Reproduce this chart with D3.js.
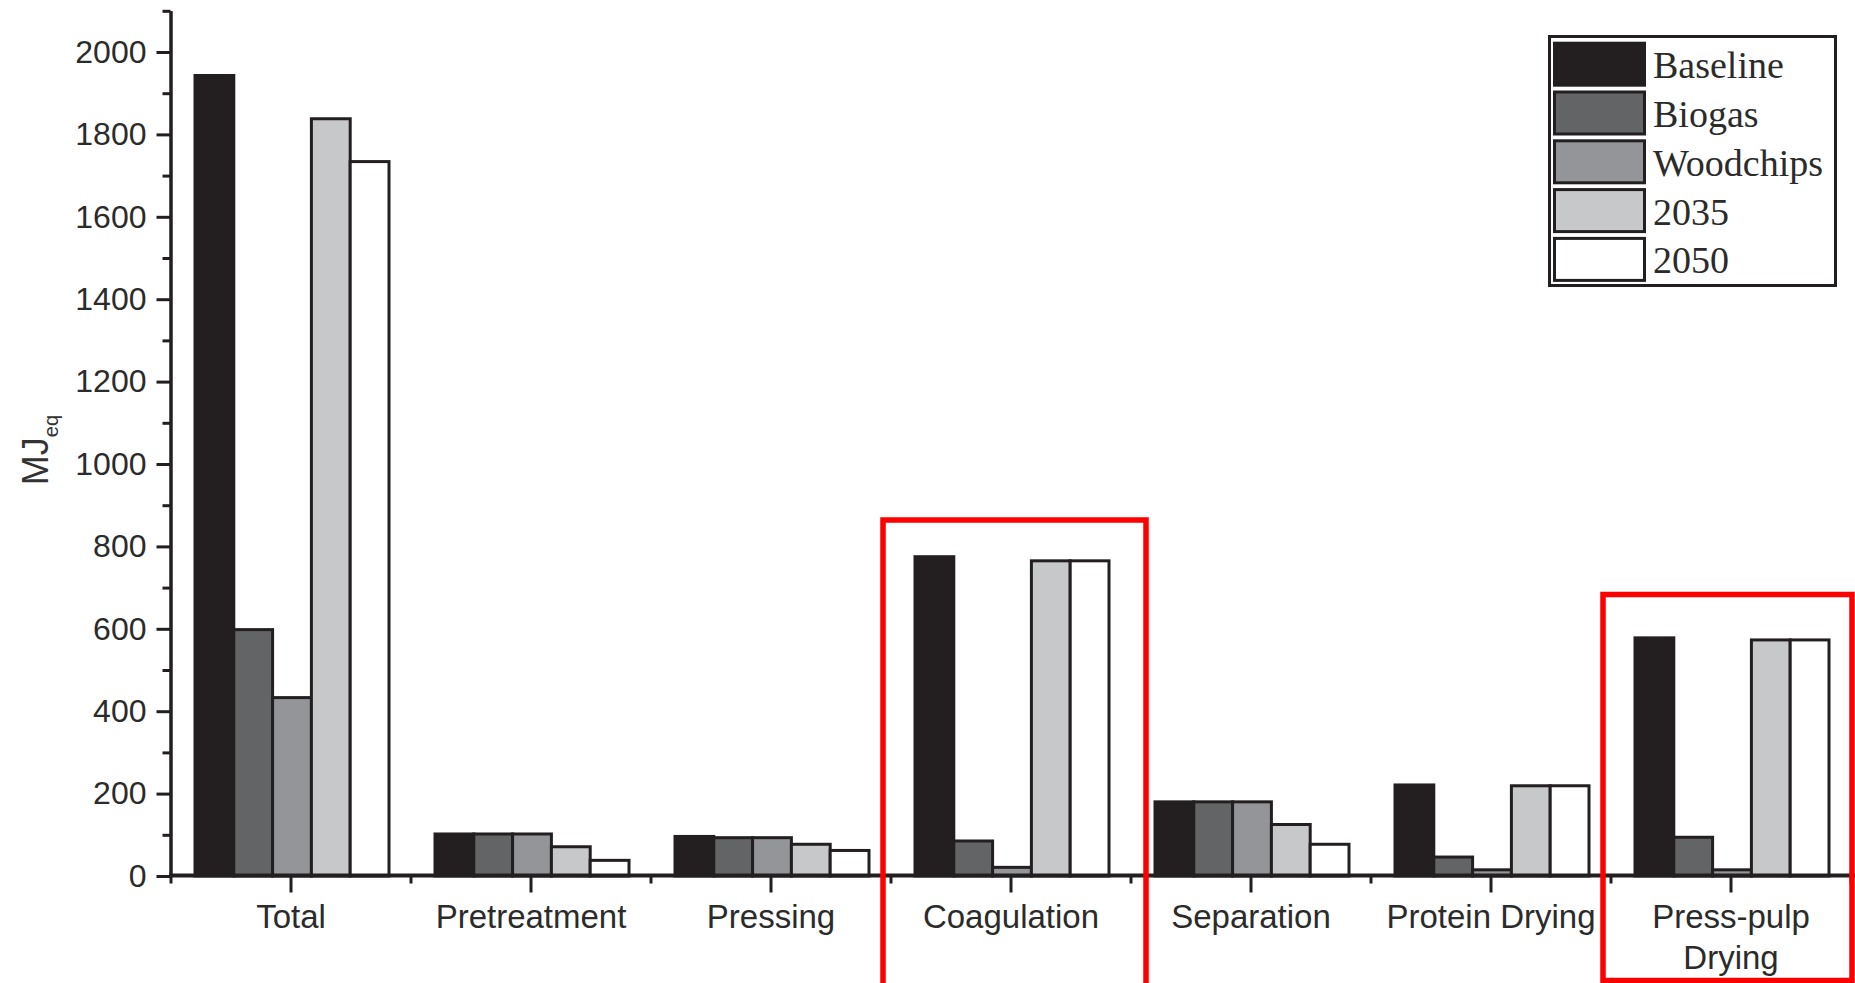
<!DOCTYPE html>
<html>
<head>
<meta charset="utf-8">
<script src="https://cdn.jsdelivr.net/npm/d3@7"></script>
<style>
  body { margin: 0; background: #fff; }
  svg { display: block; }
</style>
</head>
<body>
<div id="chart-container"></div>
<script>
// Chart data (MJ eq per process step)
var categories = ["Total", "Pretreatment", "Pressing", "Coagulation", "Separation", "Protein Drying", "Press-pulp Drying"];
var seriesNames = ["Baseline", "Biogas", "Woodchips", "2035", "2050"];
var baseline  = [1943, 102, 96, 775, 180, 221, 578];
var biogas    = [598, 102, 93, 85, 180, 46, 94];
var woodchips = [433, 102, 93, 21, 180, 15, 15];
var y2035     = [1838, 71, 77, 765, 125, 219, 573];
var y2050     = [1734, 38, 62, 765, 77, 219, 573];
var majorTicks = [0, 200, 400, 600, 800, 1000, 1200, 1400, 1600, 1800, 2000];
var minorTicks = [100, 300, 500, 700, 900, 1100, 1300, 1500, 1700, 1900, 2100];
var highlighted = ["Coagulation", "Press-pulp Drying"];

var seriesValues = [baseline, biogas, woodchips, y2035, y2050];
var colors = ["#231f20", "#636466", "#939598", "#c7c8ca", "#ffffff"];
var ink = "#231f20";

var W = 1855, H = 983;
var svg = d3.select("#chart-container")
    .append("svg")
    .attr("width", W)
    .attr("height", H);

// scales
var x0 = d3.scaleBand()
    .domain(categories)
    .range([171, 1851])
    .padding(0);

var x1 = d3.scaleBand()
    .domain(seriesNames)
    .range([24, 218])
    .padding(0);

var y = d3.scaleLinear()
    .domain([0, 2100])
    .range([876, 10.8]);

var color = d3.scaleOrdinal().domain(seriesNames).range(colors);

// bars
var rows = categories.map(function(c, i) {
    return {
        cat: c,
        vals: seriesNames.map(function(s, j) { return {key: s, value: seriesValues[j][i]}; })
    };
});

var groups = svg.append("g").selectAll("g")
    .data(rows)
    .enter()
    .append("g")
    .attr("transform", function(d) { return "translate(" + x0(d.cat) + ",0)"; });

groups.selectAll("rect")
    .data(function(d) { return d.vals; })
    .enter()
    .append("rect")
    .attr("x", function(d) { return x1(d.key); })
    .attr("y", function(d) { return y(d.value); })
    .attr("width", x1.bandwidth())
    .attr("height", function(d) { return y(0) - y(d.value); })
    .attr("fill", function(d) { return color(d.key); })
    .attr("stroke", ink)
    .attr("stroke-width", 3);

// y axis (major + minor ticks)
var yAxis = d3.axisLeft(y).tickValues(majorTicks).tickSize(14).tickPadding(10)
    .tickSizeOuter(0).tickFormat(d3.format("d"));
var yAxisMinor = d3.axisLeft(y).tickValues(minorTicks).tickSize(8).tickFormat("").tickSizeOuter(0);

var gy = svg.append("g")
    .attr("transform", "translate(170.5,0)")
    .call(yAxis);
var gyMinor = svg.append("g")
    .attr("transform", "translate(170.5,0)")
    .call(yAxisMinor);

[gy, gyMinor].forEach(function(g) {
    g.select(".domain").attr("stroke", ink).attr("stroke-width", 3);
    g.selectAll(".tick line").attr("stroke", ink).attr("stroke-width", 3);
});
gy.selectAll(".tick text")
    .attr("font-family", "'Liberation Sans', Arial, sans-serif")
    .attr("font-size", 32)
    .attr("fill", "#2b2b2b");

// x axis: major ticks at category centres, minor ticks at group boundaries
var xAxis = d3.axisBottom(x0).tickSize(17).tickPadding(10).tickSizeOuter(0).tickFormat("");
var gx = svg.append("g")
    .attr("transform", "translate(0,875.5)")
    .call(xAxis);
gx.select(".domain").remove();
gx.selectAll(".tick line").attr("stroke", ink).attr("stroke-width", 3);

var boundaries = categories.map(function(c) { return x0(c); }).concat([x0.range()[1]]);
gx.selectAll(".minor")
    .data(boundaries)
    .enter()
    .append("line")
    .attr("class", "minor")
    .attr("x1", function(d) { return d; })
    .attr("x2", function(d) { return d; })
    .attr("y1", 0)
    .attr("y2", 8)
    .attr("stroke", ink)
    .attr("stroke-width", 3);

gx.append("line")
    .attr("x1", 169)
    .attr("x2", W)
    .attr("y1", 0)
    .attr("y2", 0)
    .attr("stroke", ink)
    .attr("stroke-width", 4);

// category labels (split on the two-line one)
var labelLines = {"Press-pulp Drying": ["Press-pulp", "Drying"]};
gx.selectAll(".cat-label")
    .data(categories)
    .enter()
    .append("text")
    .attr("class", "cat-label")
    .attr("x", function(d) { return x0(d) + x0.bandwidth() / 2; })
    .attr("y", 52)
    .attr("text-anchor", "middle")
    .attr("font-family", "'Liberation Sans', Arial, sans-serif")
    .attr("font-size", 33)
    .attr("fill", "#2b2b2b")
    .each(function(d) {
        var lines = labelLines[d] || [d];
        var t = d3.select(this);
        lines.forEach(function(l, i) {
            t.append("tspan")
                .attr("x", x0(d) + x0.bandwidth() / 2)
                .attr("dy", i === 0 ? 0 : 41)
                .text(l);
        });
    });

// y axis title MJ_eq
var yTitle = svg.append("text")
    .attr("transform", "translate(48,450) rotate(-90)")
    .attr("text-anchor", "middle")
    .attr("font-family", "'Liberation Sans', Arial, sans-serif")
    .attr("fill", "#333");
yTitle.append("tspan").attr("font-size", 36).text("MJ");
yTitle.append("tspan").attr("font-size", 20).attr("dy", 10).text("eq");

// red highlight boxes
svg.append("g").selectAll("rect")
    .data(highlighted)
    .enter()
    .append("rect")
    .attr("x", function(d) { return x0(d) - 8; })
    .attr("y", function(d, i) { return i === 0 ? 520 : 594.5; })
    .attr("width", function(d, i) { return i === 0 ? x0.bandwidth() + 23 : x0.range()[1] - x0(d) + 9; })
    .attr("height", function(d, i) { return i === 0 ? 500 : 386; })
    .attr("fill", "none")
    .attr("stroke", "#ff0000")
    .attr("stroke-width", 5.5);

// legend
var legend = svg.append("g");
legend.append("rect")
    .attr("x", 1549.5)
    .attr("y", 36.5)
    .attr("width", 286)
    .attr("height", 249)
    .attr("fill", "#fff")
    .attr("stroke", ink)
    .attr("stroke-width", 3);

var items = legend.selectAll(".item")
    .data(seriesNames)
    .enter()
    .append("g")
    .attr("class", "item")
    .attr("transform", function(d, i) { return "translate(0," + (41.7 + i * 48.8) + ")"; });

items.append("rect")
    .attr("x", 1554.5)
    .attr("y", 1.5)
    .attr("width", 90)
    .attr("height", 42)
    .attr("fill", function(d) { return color(d); })
    .attr("stroke", ink)
    .attr("stroke-width", 3);

items.append("text")
    .attr("x", 1653)
    .attr("y", 36.5)
    .attr("font-family", "'Liberation Serif', 'Times New Roman', serif")
    .attr("font-size", 38)
    .attr("fill", "#2b2b2b")
    .text(function(d) { return d; });
</script>
</body>
</html>
